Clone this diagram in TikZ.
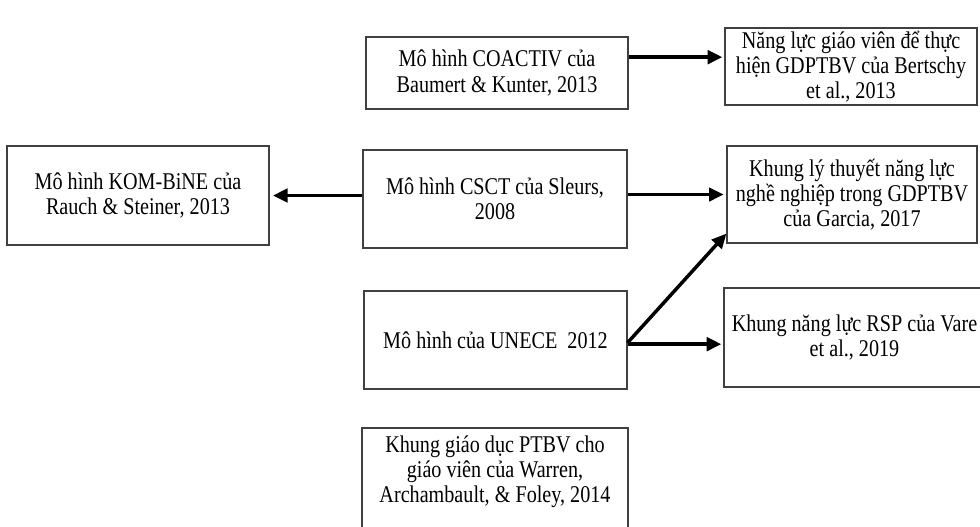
\documentclass[tikz,border=0pt]{standalone}
\usepackage{fontspec}
\setmainfont{Liberation Serif}[FakeStretch=0.84]
\usetikzlibrary{arrows.meta}

\begin{document}
\begin{tikzpicture}[x=0.75pt,y=-0.75pt,
    box/.style={draw=black!75, line width=0.9pt, align=center, inner sep=0pt,
      font=\fontsize{18}{18.8}\selectfont},
    arr/.style={line width=2.6pt, -{Triangle[length=11pt,width=10pt]}}]
  \clip (0,0) rectangle (980,526);

    \node[box, minimum width=196.5pt, minimum height=54pt] (coactiv) at (497,73)
      {Mô hình COACTIV của\\Baumert \& Kunter, 2013};
    \node[box, minimum width=189pt, minimum height=57.75pt] (bertschy) at (851,66.5)
      {Năng lực giáo viên để thực\\hiện GDPTBV của Bertschy\\et al., 2013};

    \node[box, minimum width=196.5pt, minimum height=74.25pt] (kom) at (138,195.5)
      {Mô hình KOM-BiNE của\\Rauch \& Steiner, 2013};
    \node[box, minimum width=198pt, minimum height=73.5pt] (csct) at (495,199)
      {Mô hình CSCT của Sleurs,\\2008};
    \node[box, minimum width=187.5pt, minimum height=72.75pt] (garcia) at (852,194.5)
      {Khung lý thuyết năng lực\\nghề nghiệp trong GDPTBV\\của Garcia, 2017};

    \node[box, minimum width=197.25pt, minimum height=73.5pt] (unece) at (495.5,340)
      {Mô hình của UNECE\ \ 2012};
    \node[box, minimum width=195.75pt, minimum height=74.25pt] (rsp) at (854.5,337.5)
      {Khung năng lực RSP của Vare\\et al., 2019};

    % box runs off the page
    \draw[draw=black!75, line width=0.9pt] (362,428) rectangle (628,545);
    \node[box, draw=none] (warren) at (495,472)
      {Khung giáo dục PTBV cho\\giáo viên của Warren,\\Archambault, \& Foley, 2014};

    \coordinate (a1) at ([yshift=7pt]bertschy.west);
    \coordinate (a4) at ([yshift=-5pt]rsp.west);
    \coordinate (a5) at ([yshift=7.5pt]garcia.south west);

    \draw[arr] (coactiv.east |- a1) -- ([xshift=-1.5pt]a1);
    \draw[arr] (csct.west |- kom.east) -- ([xshift=2.5pt]kom.east);
    \draw[arr] (csct.east |- garcia.west) -- ([xshift=-2pt]garcia.west);
    \draw[arr] (unece.east |- a4) -- ([xshift=-1.5pt]a4);
    \draw[arr] ([yshift=-2pt]unece.east) -- (a5);

\end{tikzpicture}
\end{document}
